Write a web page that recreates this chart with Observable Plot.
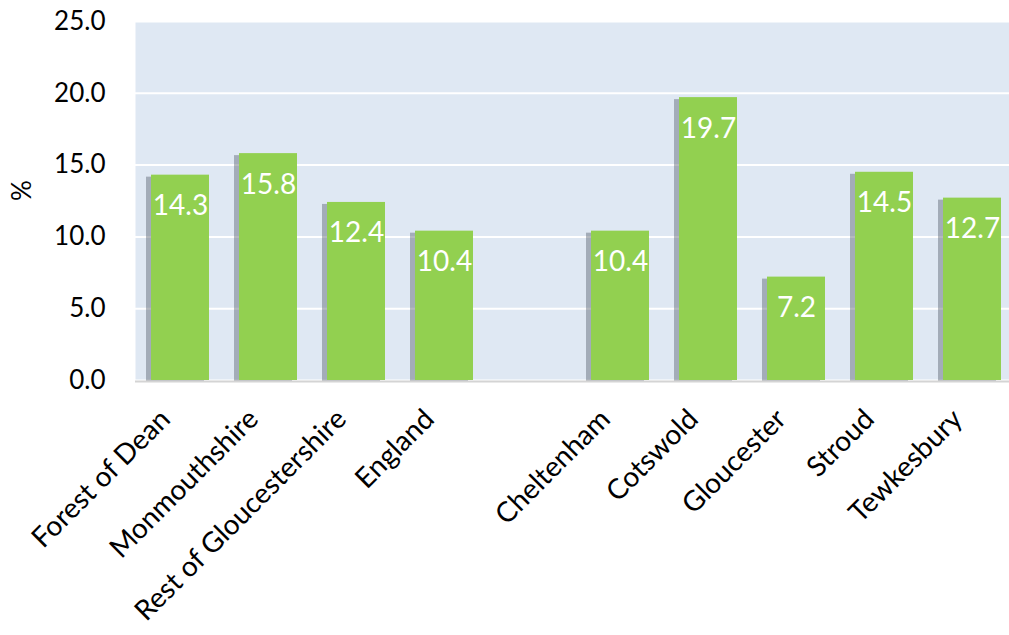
<!DOCTYPE html>
<html>
<head>
<meta charset="utf-8">
<script src="https://cdn.jsdelivr.net/npm/d3@7"></script>
<script src="https://cdn.jsdelivr.net/npm/@observablehq/plot@0.6"></script>
<style>
  html, body { margin: 0; padding: 0; background: #fff; }
  #chart svg { display: block; }
</style>
</head>
<body>
<div id="chart"></div>
<script>
const categories = ["Forest of Dean", "Monmouthshire", "Rest of Gloucestershire", "England", "", "Cheltenham", "Cotswold", "Gloucester", "Stroud", "Tewkesbury"];
const areas = ["Forest of Dean", "Monmouthshire", "Rest of Gloucestershire", "England", "Cheltenham", "Cotswold", "Gloucester", "Stroud", "Tewkesbury"];
const values = [14.3, 15.8, 12.4, 10.4, 10.4, 19.7, 7.2, 14.5, 12.7];
const yTicks = [0, 5, 10, 15, 20, 25];

const data = areas.map((a, i) => ({area: a, value: values[i]}));

const chart = Plot.plot({
  width: 1009,
  height: 635,
  marginLeft: 135,
  marginRight: 0,
  marginTop: 21,
  marginBottom: 255,
  style: {fontFamily: "Lato, sans-serif", background: "#fff", color: "#000"},
  x: {domain: categories, paddingInner: 0.34, paddingOuter: 0.18, range: [135, 1017], label: null},
  y: {domain: [0, 25], label: null},
  marks: [
    Plot.frame({fill: "#dfe8f3", stroke: null}),
    Plot.gridY(yTicks, {stroke: "#fff", strokeOpacity: 1, strokeWidth: 2}),
    Plot.barY(data, {x: "area", y: "value", fill: "#5a6470", fillOpacity: 0.45, dx: -5, dy: 2, ariaLabel: "shadow"}),
    Plot.barY(data, {x: "area", y: "value", fill: "#92d050"}),
    Plot.ruleY([0], {stroke: "#d4d4d4", strokeWidth: 2, dy: 1}),
    Plot.text(data, {x: "area", y: "value", text: d => d.value.toFixed(1), fill: "#fff", fontSize: 28, dy: 31, lineAnchor: "middle"}),
    Plot.axisY(yTicks, {tickSize: 0, tickPadding: 30, fontSize: 26, tickFormat: d => d.toFixed(1), label: null}),
    Plot.text(["%"], {frameAnchor: "left", dx: -113, rotate: -90, fontSize: 26, fill: "#000"}),
    Plot.axisX({tickSize: 0, tickRotate: -45, tickPadding: 34, dx: -15, fontSize: 28, label: null, tickFormat: d => d})
  ]
});

const sh = chart.querySelector('[aria-label="shadow"]');
if (sh) sh.style.filter = "blur(4px)";
document.getElementById("chart").appendChild(chart);
</script>
</body>
</html>
